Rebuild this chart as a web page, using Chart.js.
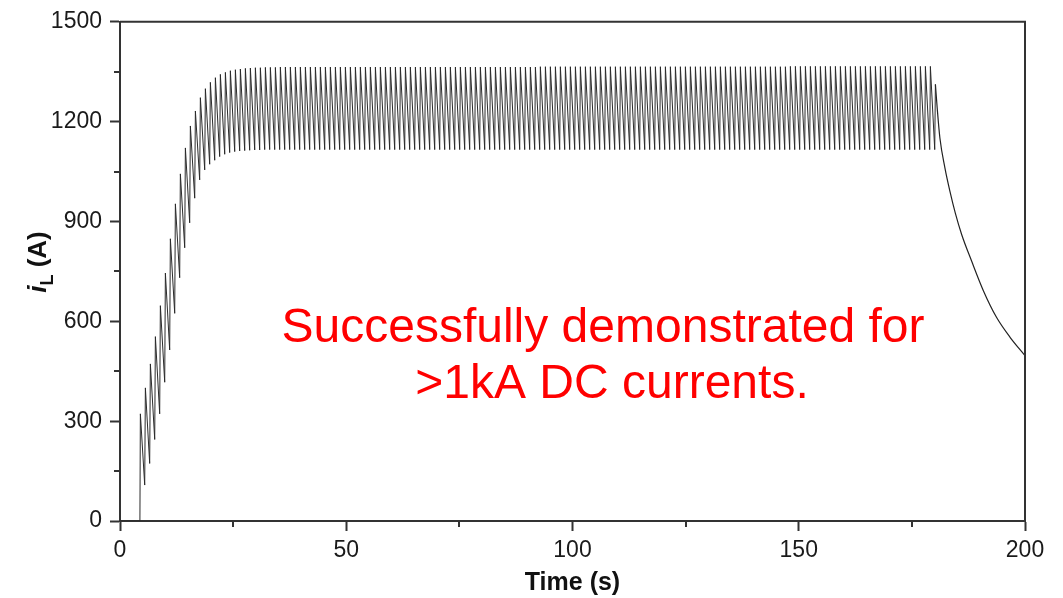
<!DOCTYPE html>
<html lang="en">
<head>
<meta charset="UTF-8">
<title>Inductor current</title>
<script src="https://cdn.jsdelivr.net/npm/chart.js"></script>
<style>
    * { margin: 0; padding: 0; box-sizing: border-box; }
    body { background: #fff; overflow: hidden; }
    .wrap { position: relative; width: 1063px; height: 598px; }
</style>
</head>
<body>
<div class="wrap"><canvas id="currentChart"></canvas></div>
<script>
// Axis ticks
const xTicks = [0, 50, 100, 150, 200];
const yTicks = [0, 300, 600, 900, 1200, 1500];
const xMinorTicks = [25, 75, 125, 175];
const yMinorTicks = [150, 450, 750, 1050, 1350];

// Current sits at zero until the first charge
const startTimes = [0, 4.4];
const startCurrents = [0, 0];

// Time of each charge peak (s)
const peakTimes = [
    4.50, 5.61, 6.71, 7.82, 8.92, 10.03, 11.13, 12.24, 13.34, 14.45,
    15.55, 16.66, 17.76, 18.87, 19.97, 21.08, 22.18, 23.29, 24.39, 25.50,
    26.60, 27.71, 28.81, 29.92, 31.02, 32.13, 33.23, 34.34, 35.44, 36.55,
    37.65, 38.76, 39.86, 40.97, 42.07, 43.18, 44.28, 45.39, 46.49, 47.60,
    48.70, 49.81, 50.91, 52.02, 53.12, 54.23, 55.33, 56.44, 57.54, 58.65,
    59.75, 60.86, 61.96, 63.07, 64.17, 65.28, 66.38, 67.49, 68.59, 69.70,
    70.80, 71.91, 73.01, 74.12, 75.22, 76.33, 77.43, 78.54, 79.64, 80.75,
    81.85, 82.96, 84.06, 85.17, 86.27, 87.38, 88.48, 89.59, 90.69, 91.80,
    92.90, 94.01, 95.11, 96.22, 97.32, 98.43, 99.53, 100.64, 101.74, 102.85,
    103.95, 105.06, 106.16, 107.27, 108.37, 109.48, 110.58, 111.69, 112.79, 113.90,
    115.00, 116.11, 117.21, 118.32, 119.42, 120.53, 121.63, 122.74, 123.84, 124.95,
    126.05, 127.16, 128.26, 129.37, 130.47, 131.58, 132.68, 133.79, 134.89, 136.00,
    137.10, 138.21, 139.31, 140.42, 141.52, 142.63, 143.73, 144.84, 145.94, 147.05,
    148.15, 149.26, 150.36, 151.47, 152.57, 153.68, 154.78, 155.89, 156.99, 158.10,
    159.20, 160.31, 161.41, 162.52, 163.62, 164.73, 165.83, 166.94, 168.04, 169.15,
    170.25, 171.36, 172.46, 173.57, 174.67, 175.78, 176.88, 177.99, 179.09, 180.20
];

// Current at each peak (A)
const peakCurrents = [
    322, 400, 472, 554, 647, 745, 848, 953, 1043, 1121,
    1187, 1232, 1272, 1299, 1318, 1332, 1342, 1348, 1353, 1356,
    1358, 1360, 1361, 1362, 1362, 1363, 1363, 1363, 1364, 1364,
    1364, 1364, 1364, 1364, 1364, 1364, 1364, 1364, 1364, 1364,
    1364, 1364, 1364, 1364, 1364, 1364, 1364, 1364, 1364, 1364,
    1364, 1364, 1364, 1364, 1364, 1364, 1364, 1364, 1364, 1364,
    1364, 1364, 1364, 1364, 1364, 1364, 1364, 1364, 1364, 1364,
    1364, 1364, 1364, 1364, 1364, 1364, 1364, 1364, 1364, 1364,
    1365, 1365, 1365, 1365, 1365, 1365, 1365, 1365, 1365, 1365,
    1365, 1365, 1365, 1365, 1365, 1365, 1365, 1365, 1365, 1365,
    1365, 1365, 1365, 1365, 1365, 1365, 1365, 1365, 1365, 1365,
    1365, 1365, 1365, 1365, 1365, 1365, 1365, 1365, 1365, 1365,
    1365, 1365, 1365, 1365, 1365, 1365, 1365, 1365, 1365, 1365,
    1366, 1366, 1366, 1366, 1366, 1366, 1366, 1366, 1366, 1366,
    1366, 1366, 1366, 1366, 1366, 1366, 1366, 1366, 1366, 1366,
    1366, 1366, 1366, 1366, 1366, 1366, 1366, 1366, 1366, 1312
];

// Lowest current after each peak, just before the next charge (A)
const troughCurrents = [
    108, 173, 245, 322, 417, 514, 624, 731, 821, 896,
    970, 1025, 1055, 1072, 1084, 1095, 1102, 1107, 1110, 1112,
    1113, 1114, 1115, 1115, 1116, 1116, 1116, 1116, 1116, 1116,
    1116, 1116, 1116, 1116, 1116, 1116, 1116, 1116, 1116, 1116,
    1116, 1116, 1116, 1116, 1116, 1116, 1116, 1116, 1116, 1116,
    1116, 1116, 1116, 1116, 1116, 1116, 1116, 1116, 1116, 1116,
    1116, 1116, 1116, 1116, 1116, 1116, 1116, 1116, 1116, 1116,
    1116, 1116, 1116, 1116, 1116, 1116, 1116, 1116, 1116, 1116,
    1116, 1116, 1116, 1116, 1116, 1116, 1116, 1116, 1116, 1116,
    1116, 1116, 1116, 1116, 1116, 1116, 1116, 1116, 1116, 1116,
    1116, 1116, 1116, 1116, 1116, 1116, 1116, 1116, 1116, 1116,
    1116, 1116, 1116, 1116, 1116, 1116, 1116, 1116, 1116, 1116,
    1116, 1116, 1116, 1116, 1116, 1116, 1116, 1116, 1116, 1116,
    1116, 1116, 1116, 1116, 1116, 1116, 1116, 1116, 1116, 1116,
    1116, 1116, 1116, 1116, 1116, 1116, 1116, 1116, 1116, 1116,
    1116, 1116, 1116, 1116, 1116, 1116, 1116, 1116, 1116
];

// Free decay after the last charge
const decayTimes = [180.6, 181.2, 182.3, 183.4, 184.6, 186.0, 188.2, 190.8, 193.7, 196.7, 200.0];
const decayCurrents = [1240, 1150, 1061, 991, 925, 861, 781, 692, 612, 552, 497];

const noteLines = ['Successfully demonstrated for', '>1kA DC currents.'];

const FONT = '"Liberation Sans", Arial, Helvetica, sans-serif';
const axisColor = '#333';
const riseTime = 0.15; // each charge ramps up almost vertically

// Sawtooth: peak, then decay down to the trough just before the next peak
const chargePoints = startTimes.map((t, i) => ({ x: t, y: startCurrents[i] }));
for (let k = 0; k < peakTimes.length; k++) {
    chargePoints.push({ x: peakTimes[k], y: peakCurrents[k] });
    if (k < troughCurrents.length) {
        chargePoints.push({ x: peakTimes[k + 1] - riseTime, y: troughCurrents[k] });
    }
}
const last = peakTimes.length - 1;
const decayPoints = [{ x: peakTimes[last], y: peakCurrents[last] }]
    .concat(decayTimes.map((t, i) => ({ x: t, y: decayCurrents[i] })));

// Box edges, minor ticks, y title with subscript and the red note
const extras = {
    id: 'extras',
    afterDraw(chart) {
        const { ctx, chartArea: a, scales: { x, y } } = chart;
        ctx.save();
        ctx.strokeStyle = axisColor;
        ctx.lineWidth = 2;
        ctx.beginPath();
        ctx.moveTo(a.left, a.top);
        ctx.lineTo(a.right, a.top);
        ctx.lineTo(a.right, a.bottom);
        ctx.stroke();

        ctx.beginPath();
        xMinorTicks.forEach(v => {
            const px = Math.round(x.getPixelForValue(v));
            ctx.moveTo(px, a.bottom);
            ctx.lineTo(px, a.bottom + 6);
        });
        yMinorTicks.forEach(v => {
            const py = Math.round(y.getPixelForValue(v));
            ctx.moveTo(a.left, py);
            ctx.lineTo(a.left - 6, py);
        });
        ctx.stroke();

        // i_L (A), rotated
        ctx.save();
        ctx.translate(46, 262);
        ctx.rotate(-Math.PI / 2);
        ctx.fillStyle = '#111';
        ctx.textAlign = 'left';
        ctx.textBaseline = 'alphabetic';
        const parts = [
            { text: 'i', font: 'italic bold 26px ' + FONT, dy: 0 },
            { text: 'L', font: 'bold 18px ' + FONT, dy: 7 },
            { text: ' (A)', font: 'bold 26px ' + FONT, dy: 0 }
        ];
        let total = 0;
        parts.forEach(p => { ctx.font = p.font; p.w = ctx.measureText(p.text).width; total += p.w; });
        let cx = -total / 2;
        parts.forEach(p => { ctx.font = p.font; ctx.fillText(p.text, cx, p.dy); cx += p.w; });
        ctx.restore();

        ctx.fillStyle = '#ff0000';
        ctx.font = '48px ' + FONT;
        ctx.textAlign = 'center';
        ctx.textBaseline = 'alphabetic';
        ctx.fillText(noteLines[0], 603, 342);
        ctx.fillText(noteLines[1], 612, 398);
        ctx.restore();
    }
};

new Chart(document.getElementById('currentChart'), {
    type: 'line',
    data: {
        datasets: [{
            data: chargePoints,
            borderColor: '#2a2a2a',
            borderWidth: 1,
            pointRadius: 0,
            tension: 0
        }, {
            data: decayPoints,
            borderColor: '#222',
            borderWidth: 1.2,
            pointRadius: 0,
            cubicInterpolationMode: 'monotone'
        }]
    },
    options: {
        responsive: true,
        maintainAspectRatio: false,
        animation: false,
        events: [],
        layout: { padding: { left: 0, right: 38, top: 20, bottom: 0 } },
        plugins: { legend: { display: false }, tooltip: { enabled: false } },
        scales: {
            x: {
                type: 'linear',
                min: 0,
                max: 200,
                afterBuildTicks: s => { s.ticks = xTicks.map(v => ({ value: v })); },
                afterFit: s => { s.height = 77; },
                ticks: {
                    font: { family: FONT, size: 23 }, color: '#1a1a1a', padding: 6, maxRotation: 0,
                    callback: v => String(v)
                },
                grid: { drawOnChartArea: false, tickLength: 10, tickColor: axisColor, tickWidth: 2 },
                border: { color: axisColor, width: 2 },
                title: {
                    display: true,
                    text: 'Time (s)',
                    font: { family: FONT, size: 25, weight: 'bold' },
                    color: '#111',
                    padding: { top: 0, bottom: 0 }
                }
            },
            y: {
                min: 0,
                max: 1500,
                afterBuildTicks: s => { s.ticks = yTicks.map(v => ({ value: v })); },
                afterFit: s => { s.width = 120; },
                ticks: {
                    font: { family: FONT, size: 23 }, color: '#1a1a1a', padding: 8,
                    callback: v => String(v)
                },
                grid: { drawOnChartArea: false, tickLength: 10, tickColor: axisColor, tickWidth: 2 },
                border: { color: axisColor, width: 2 }
            }
        }
    },
    plugins: [extras]
});
</script>
</body>
</html>
